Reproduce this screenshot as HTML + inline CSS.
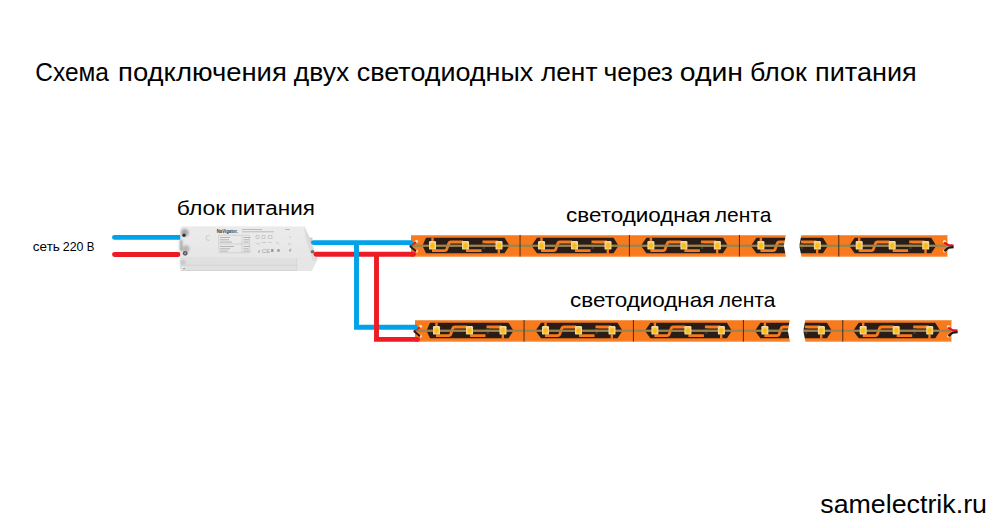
<!DOCTYPE html>
<html><head><meta charset="utf-8"><title>Схема подключения</title>
<style>html,body{margin:0;padding:0;background:#fff;width:999px;height:528px;overflow:hidden}svg{display:block}</style>
</head><body>
<svg width="999" height="528" viewBox="0 0 999 528">
<rect width="999" height="528" fill="#fff"/>
<defs><radialGradient id="ledg" cx="0.5" cy="0.55" r="0.6"><stop offset="0" stop-color="#ffb400"/><stop offset="0.45" stop-color="#fcc02a"/><stop offset="0.75" stop-color="#f4d690"/><stop offset="1" stop-color="#eadcb8"/></radialGradient></defs>
<g font-family="Liberation Sans, sans-serif" fill="#000">
<text x="35.25" y="81.3" font-size="25.5" textLength="73.72" lengthAdjust="spacingAndGlyphs">Схема</text>
<text x="118.06" y="81.3" font-size="25.5" textLength="168.76" lengthAdjust="spacingAndGlyphs">подключения</text>
<text x="293.79" y="81.3" font-size="25.5" textLength="55.48" lengthAdjust="spacingAndGlyphs">двух</text>
<text x="356.84" y="81.3" font-size="25.5" textLength="176.42" lengthAdjust="spacingAndGlyphs">светодиодных</text>
<text x="540.90" y="81.3" font-size="25.5" textLength="56.54" lengthAdjust="spacingAndGlyphs">лент</text>
<text x="603.44" y="81.3" font-size="25.5" textLength="69.56" lengthAdjust="spacingAndGlyphs">через</text>
<text x="679.78" y="81.3" font-size="25.5" textLength="63.26" lengthAdjust="spacingAndGlyphs">один</text>
<text x="749.92" y="81.3" font-size="25.5" textLength="56.94" lengthAdjust="spacingAndGlyphs">блок</text>
<text x="815.09" y="81.3" font-size="25.5" textLength="101.67" lengthAdjust="spacingAndGlyphs">питания</text>
<text x="176.86" y="215.3" font-size="20.5" textLength="48.52" lengthAdjust="spacingAndGlyphs">блок</text>
<text x="230.67" y="215.3" font-size="20.5" textLength="84.25" lengthAdjust="spacingAndGlyphs">питания</text>
<text x="32.84" y="250.6" font-size="12.0" textLength="27.04" lengthAdjust="spacingAndGlyphs">сеть</text>
<text x="62.78" y="250.6" font-size="12.0" textLength="20.76" lengthAdjust="spacingAndGlyphs">220</text>
<text x="86.85" y="250.6" font-size="12.0" textLength="7.63" lengthAdjust="spacingAndGlyphs">В</text>
<text x="566.04" y="221.7" font-size="21.0" textLength="144.37" lengthAdjust="spacingAndGlyphs">светодиодная</text>
<text x="714.80" y="221.7" font-size="21.0" textLength="56.59" lengthAdjust="spacingAndGlyphs">лента</text>
<text x="570.04" y="306.7" font-size="21.0" textLength="144.37" lengthAdjust="spacingAndGlyphs">светодиодная</text>
<text x="718.80" y="306.7" font-size="21.0" textLength="56.59" lengthAdjust="spacingAndGlyphs">лента</text>
<text x="820.26" y="512.7" font-size="25.5" textLength="166.72" lengthAdjust="spacingAndGlyphs">samelectrik.ru</text>
</g>
<line x1="114.5" y1="237.4" x2="179.5" y2="237.4" stroke="#00a2e8" stroke-width="4.9" stroke-linecap="round"/>
<line x1="114.5" y1="254.5" x2="178.2" y2="254.5" stroke="#ed1c24" stroke-width="4.9" stroke-linecap="round"/>
<defs><filter id="bl" x="-50%" y="-50%" width="200%" height="200%"><feGaussianBlur stdDeviation="1.2"/></filter><filter id="bl2" x="-50%" y="-50%" width="200%" height="200%"><feGaussianBlur stdDeviation="0.5"/></filter><linearGradient id="pg" x1="0" y1="0" x2="0" y2="1"><stop offset="0" stop-color="#ebebeb"/><stop offset="1" stop-color="#e5e5e5"/></linearGradient></defs>
<path fill="url(#pg)" d="M183 226.2 L305 226.4 L310 238 L317.5 259 L311.5 271 L182 271 Q180 270.5 180.3 268 L180.3 229 Q180.5 226.3 183 226.2Z"/>
<path fill="#e0e0e0" d="M180.3 257 Q250 256.3 317.5 259 L311.5 271 L182 271 Q180 270.5 180.3 268Z"/>
<rect x="181" y="264.6" width="132" height="1.2" fill="#d6d6d6" filter="url(#bl2)"/>
<rect x="181" y="270" width="131" height="1" fill="#d4d4d4"/>
<rect x="296.5" y="258" width="0.8" height="13" fill="#d2d2d2"/>
<path fill="#e6e6e6" d="M297.3 258.3 L317.5 259 L311.5 271 L297.3 271Z"/>
<path fill="#dcdcdc" d="M304 227 L310 238 L317.5 259 L313 261 L306 240 Z" filter="url(#bl2)"/>
<rect x="309.5" y="237.5" width="3" height="6" fill="#cfcfcf" filter="url(#bl2)"/>
<circle cx="312.5" cy="251.8" r="1.8" fill="#707070" filter="url(#bl2)"/>
<g filter="url(#bl)">
<circle cx="184.8" cy="232.8" r="3.8" fill="#a6a6a6"/>
<circle cx="186" cy="248.8" r="3.6" fill="#b8b8b8"/>
<rect x="179.8" y="240" width="2.4" height="11" fill="#a0a0a0"/>
<circle cx="183" cy="262.5" r="2.8" fill="#c8c8c8"/>
</g>
<circle cx="184" cy="235.3" r="1.7" fill="#333" filter="url(#bl2)"/>
<circle cx="185.2" cy="253.3" r="2.4" fill="#5a5a5a" filter="url(#bl2)"/>
<circle cx="185.2" cy="253.3" r="1.1" fill="#9a9a9a"/>
<circle cx="183.5" cy="267.5" r="1" fill="#fafafa"/>
<circle cx="184" cy="268.5" r="0.7" fill="#777"/>
<text x="216.8" y="232.6" font-family="Liberation Sans" font-weight="bold" font-size="6.2" fill="#3a3a3a" textLength="21" lengthAdjust="spacingAndGlyphs">NaVigator.</text>
<g fill="#bababa" filter="url(#bl2)">
<rect x="242" y="229" width="20" height="1"/><rect x="242" y="231.3" width="32" height="1"/>
<rect x="285" y="229" width="5" height="1"/>
</g>
<g fill="none" stroke="#bcbcbc" stroke-width="0.7" filter="url(#bl2)">
<path stroke="#c8c8c8" d="M218.5 235.2H249 L250 252.8 H219Z M219 244H250.5 M242 235.5V253"/>
<path d="M210 236.2 A2.4 2.4 0 1 0 210 239.8"/>
</g>
<g fill="#b4b4b4" filter="url(#bl2)">
<rect x="220" y="237.0" width="10" height="1"/><rect x="243.5" y="237.0" width="7" height="1"/>
<rect x="220" y="239.3" width="9" height="1"/><rect x="243.5" y="239.3" width="6" height="1"/>
<rect x="220" y="241.6" width="12" height="1"/><rect x="243.5" y="241.6" width="5" height="1"/>
<rect x="220" y="246.0" width="14" height="1"/><rect x="243.5" y="246.0" width="6" height="1"/>
<rect x="220" y="248.3" width="10" height="1"/><rect x="243.5" y="248.3" width="5" height="1"/>
<rect x="220" y="250.6" width="8" height="1"/><rect x="243.5" y="250.6" width="6" height="1"/>
</g>
<g fill="none" stroke="#bcbcbc" stroke-width="0.7" filter="url(#bl2)">
<path d="M256 235.5h3v3h-3z M262 235.5h3v3h-3z M268.5 235.5h3.5v3h-3.5z M256 242.5l2 2l2-2 M262 242.5h4 M268.5 242.5h3 M276 242l3 2 M289 236l2 2 M288 244h3 M290 248l2 2"/>
</g>
<g fill="#9c9c9c" filter="url(#bl2)">
<text x="258" y="252.5" font-family="Liberation Sans" font-size="4.5" textLength="12" lengthAdjust="spacingAndGlyphs">ϵ CE</text>
<rect x="271" y="249" width="2.5" height="3"/><circle cx="278.5" cy="250.5" r="1.4"/><circle cx="290" cy="250.5" r="1"/>
</g>
<rect x="411.0" y="235.0" width="536.4" height="21.5" fill="#f87a1c"/>
<rect x="411.0" y="235.0" width="536.4" height="1" fill="#f79a55"/>
<rect x="411.0" y="255.8" width="536.4" height="1" fill="#f7a060"/>
<defs><clipPath id="cl235"><rect x="411.0" y="235.0" width="376.0" height="21.5"/></clipPath><clipPath id="cr235"><rect x="799.0" y="235.0" width="39.7" height="21.5"/></clipPath></defs>
<g clip-path="url(#cl235)">
<polygon fill="#2a1c16" points="422.5,245.7 426.0,237.8 504.5,237.8 509.5,245.7 504.5,253.3 426.0,253.3"/>
<path fill="none" stroke="#f87a1c" stroke-width="2.8" d="M432.0 250.6 H444.5 Q446.5 250.6 447.0 248.5 L448.5 244.3 Q449.0 242.0 451.0 242.0 H463.0"/>
<path fill="none" stroke="#f87a1c" stroke-width="2.8" d="M466.0 250.6 H481.5 M482.5 242.0 H498.0"/>
<rect x="482.5" y="243.0" width="2.5" height="6" fill="#3c3a38"/>
<rect x="431.3" y="237.6" width="2.4" height="4" fill="#f87a1c"/>
<rect x="497.6" y="249.4" width="2.4" height="4.2" fill="#f87a1c"/>
<polygon fill="#2a1c16" points="531.5,245.7 537.0,237.8 613.5,237.8 618.5,245.7 613.5,253.3 537.0,253.3"/>
<path fill="none" stroke="#f87a1c" stroke-width="2.8" d="M541.0 250.6 H553.5 Q555.5 250.6 556.0 248.5 L557.5 244.3 Q558.0 242.0 560.0 242.0 H572.0"/>
<path fill="none" stroke="#f87a1c" stroke-width="2.8" d="M575.0 250.6 H590.5 M591.5 242.0 H607.0"/>
<rect x="591.5" y="243.0" width="2.5" height="6" fill="#3c3a38"/>
<rect x="540.3" y="237.6" width="2.4" height="4" fill="#f87a1c"/>
<rect x="606.6" y="249.4" width="2.4" height="4.2" fill="#f87a1c"/>
<polygon fill="#2a1c16" points="640.9,245.7 646.4,237.8 722.9,237.8 727.9,245.7 722.9,253.3 646.4,253.3"/>
<path fill="none" stroke="#f87a1c" stroke-width="2.8" d="M650.4 250.6 H662.9 Q664.9 250.6 665.4 248.5 L666.9 244.3 Q667.4 242.0 669.4 242.0 H681.4"/>
<path fill="none" stroke="#f87a1c" stroke-width="2.8" d="M684.4 250.6 H699.9 M700.9 242.0 H716.4"/>
<rect x="700.9" y="243.0" width="2.5" height="6" fill="#3c3a38"/>
<rect x="649.7" y="237.6" width="2.4" height="4" fill="#f87a1c"/>
<rect x="716.0" y="249.4" width="2.4" height="4.2" fill="#f87a1c"/>
<polygon fill="#2a1c16" points="750.9,245.7 756.4,237.8 832.9,237.8 837.9,245.7 832.9,253.3 756.4,253.3"/>
<path fill="none" stroke="#f87a1c" stroke-width="2.8" d="M760.4 250.6 H772.9 Q774.9 250.6 775.4 248.5 L776.9 244.3 Q777.4 242.0 779.4 242.0 H791.4"/>
<path fill="none" stroke="#f87a1c" stroke-width="2.8" d="M794.4 250.6 H809.9 M810.9 242.0 H826.4"/>
<rect x="810.9" y="243.0" width="2.5" height="6" fill="#3c3a38"/>
<rect x="759.7" y="237.6" width="2.4" height="4" fill="#f87a1c"/>
<rect x="826.0" y="249.4" width="2.4" height="4.2" fill="#f87a1c"/>
</g>
<g clip-path="url(#cr235)">
<polygon fill="#2a1c16" points="740.9,245.7 746.4,237.8 822.9,237.8 827.9,245.7 822.9,253.3 746.4,253.3"/>
<path fill="none" stroke="#f87a1c" stroke-width="2.8" d="M750.4 250.6 H762.9 Q764.9 250.6 765.4 248.5 L766.9 244.3 Q767.4 242.0 769.4 242.0 H781.4"/>
<path fill="none" stroke="#f87a1c" stroke-width="2.8" d="M784.4 250.6 H799.9 M800.9 242.0 H816.4"/>
<rect x="800.9" y="243.0" width="2.5" height="6" fill="#3c3a38"/>
<rect x="749.7" y="237.6" width="2.4" height="4" fill="#f87a1c"/>
<rect x="816.0" y="249.4" width="2.4" height="4.2" fill="#f87a1c"/>
</g>
<polygon fill="#2a1c16" points="849.2,245.7 854.7,237.8 931.2,237.8 936.2,245.7 931.2,253.3 854.7,253.3"/>
<path fill="none" stroke="#f87a1c" stroke-width="2.8" d="M858.7 250.6 H871.2 Q873.2 250.6 873.7 248.5 L875.2 244.3 Q875.7 242.0 877.7 242.0 H889.7"/>
<path fill="none" stroke="#f87a1c" stroke-width="2.8" d="M892.7 250.6 H908.2 M909.2 242.0 H924.7"/>
<rect x="909.2" y="243.0" width="2.5" height="6" fill="#3c3a38"/>
<rect x="858.0" y="237.6" width="2.4" height="4" fill="#f87a1c"/>
<rect x="924.3" y="249.4" width="2.4" height="4.2" fill="#f87a1c"/>
<rect x="411.0" y="244.6" width="536.4" height="2.3" fill="#9a8552"/>
<g clip-path="url(#cl235)">
<rect x="429.0" y="241.0" width="7" height="8.6" rx="1.2" fill="url(#ledg)"/>
<rect x="462.0" y="241.0" width="7" height="8.6" rx="1.2" fill="url(#ledg)"/>
<rect x="495.5" y="241.0" width="7" height="8.6" rx="1.2" fill="url(#ledg)"/>
<rect x="538.0" y="241.0" width="7" height="8.6" rx="1.2" fill="url(#ledg)"/>
<rect x="571.0" y="241.0" width="7" height="8.6" rx="1.2" fill="url(#ledg)"/>
<rect x="604.5" y="241.0" width="7" height="8.6" rx="1.2" fill="url(#ledg)"/>
<rect x="647.4" y="241.0" width="7" height="8.6" rx="1.2" fill="url(#ledg)"/>
<rect x="680.4" y="241.0" width="7" height="8.6" rx="1.2" fill="url(#ledg)"/>
<rect x="713.9" y="241.0" width="7" height="8.6" rx="1.2" fill="url(#ledg)"/>
<rect x="757.4" y="241.0" width="7" height="8.6" rx="1.2" fill="url(#ledg)"/>
<rect x="790.4" y="241.0" width="7" height="8.6" rx="1.2" fill="url(#ledg)"/>
<rect x="823.9" y="241.0" width="7" height="8.6" rx="1.2" fill="url(#ledg)"/>
</g><g clip-path="url(#cr235)">
<rect x="747.4" y="241.0" width="7" height="8.6" rx="1.2" fill="url(#ledg)"/>
<rect x="780.4" y="241.0" width="7" height="8.6" rx="1.2" fill="url(#ledg)"/>
<rect x="813.9" y="241.0" width="7" height="8.6" rx="1.2" fill="url(#ledg)"/>
</g>
<rect x="855.7" y="241.0" width="7" height="8.6" rx="1.2" fill="url(#ledg)"/>
<rect x="888.7" y="241.0" width="7" height="8.6" rx="1.2" fill="url(#ledg)"/>
<rect x="922.2" y="241.0" width="7" height="8.6" rx="1.2" fill="url(#ledg)"/>
<circle cx="416.5" cy="241.3" r="1.6" fill="#f3dcc0"/><circle cx="416.5" cy="251.0" r="1.6" fill="#f3dcc0"/>
<circle cx="944.5" cy="241.5" r="1.6" fill="#f3dcc0"/><circle cx="944.5" cy="251.0" r="1.6" fill="#f3dcc0"/>
<rect x="519.5" y="235.0" width="1.1" height="21.5" fill="#4a2c18" opacity="0.9"/>
<rect x="628.9" y="235.0" width="1.1" height="21.5" fill="#4a2c18" opacity="0.9"/>
<rect x="738.9" y="235.0" width="1.1" height="21.5" fill="#4a2c18" opacity="0.9"/>
<rect x="838.2" y="235.0" width="1.1" height="21.5" fill="#4a2c18" opacity="0.9"/>
<polygon fill="#fff" points="786.0,234.0 801.5,234.0 799.3,245.7 801.5,257.0 786.0,257.0 783.8,245.7"/>
<polyline fill="none" stroke="#e3141c" stroke-width="1.8" points="416.0,242.4 409.8,246.0"/>
<polyline fill="none" stroke="#1a1a1a" stroke-width="1.8" points="409.8,246.0 416.0,251.2"/>
<polyline fill="none" stroke="#e3141c" stroke-width="2.2" points="944.1,242.6 948.6,245.2 953.6,245.6"/>
<polyline fill="none" stroke="#1a1a1a" stroke-width="2.2" points="944.4,251.1 948.6,247.6 953.6,247.2"/>
<rect x="415.0" y="320.0" width="536.4" height="21.5" fill="#f87a1c"/>
<rect x="415.0" y="320.0" width="536.4" height="1" fill="#f79a55"/>
<rect x="415.0" y="340.8" width="536.4" height="1" fill="#f7a060"/>
<defs><clipPath id="cl320"><rect x="415.0" y="320.0" width="376.0" height="21.5"/></clipPath><clipPath id="cr320"><rect x="803.0" y="320.0" width="39.7" height="21.5"/></clipPath></defs>
<g clip-path="url(#cl320)">
<polygon fill="#2a1c16" points="426.5,330.7 430.0,322.8 508.5,322.8 513.5,330.7 508.5,338.3 430.0,338.3"/>
<path fill="none" stroke="#f87a1c" stroke-width="2.8" d="M436.0 335.6 H448.5 Q450.5 335.6 451.0 333.5 L452.5 329.3 Q453.0 327.0 455.0 327.0 H467.0"/>
<path fill="none" stroke="#f87a1c" stroke-width="2.8" d="M470.0 335.6 H485.5 M486.5 327.0 H502.0"/>
<rect x="486.5" y="328.0" width="2.5" height="6" fill="#3c3a38"/>
<rect x="435.3" y="322.6" width="2.4" height="4" fill="#f87a1c"/>
<rect x="501.6" y="334.4" width="2.4" height="4.2" fill="#f87a1c"/>
<polygon fill="#2a1c16" points="535.5,330.7 541.0,322.8 617.5,322.8 622.5,330.7 617.5,338.3 541.0,338.3"/>
<path fill="none" stroke="#f87a1c" stroke-width="2.8" d="M545.0 335.6 H557.5 Q559.5 335.6 560.0 333.5 L561.5 329.3 Q562.0 327.0 564.0 327.0 H576.0"/>
<path fill="none" stroke="#f87a1c" stroke-width="2.8" d="M579.0 335.6 H594.5 M595.5 327.0 H611.0"/>
<rect x="595.5" y="328.0" width="2.5" height="6" fill="#3c3a38"/>
<rect x="544.3" y="322.6" width="2.4" height="4" fill="#f87a1c"/>
<rect x="610.6" y="334.4" width="2.4" height="4.2" fill="#f87a1c"/>
<polygon fill="#2a1c16" points="644.9,330.7 650.4,322.8 726.9,322.8 731.9,330.7 726.9,338.3 650.4,338.3"/>
<path fill="none" stroke="#f87a1c" stroke-width="2.8" d="M654.4 335.6 H666.9 Q668.9 335.6 669.4 333.5 L670.9 329.3 Q671.4 327.0 673.4 327.0 H685.4"/>
<path fill="none" stroke="#f87a1c" stroke-width="2.8" d="M688.4 335.6 H703.9 M704.9 327.0 H720.4"/>
<rect x="704.9" y="328.0" width="2.5" height="6" fill="#3c3a38"/>
<rect x="653.7" y="322.6" width="2.4" height="4" fill="#f87a1c"/>
<rect x="720.0" y="334.4" width="2.4" height="4.2" fill="#f87a1c"/>
<polygon fill="#2a1c16" points="754.9,330.7 760.4,322.8 836.9,322.8 841.9,330.7 836.9,338.3 760.4,338.3"/>
<path fill="none" stroke="#f87a1c" stroke-width="2.8" d="M764.4 335.6 H776.9 Q778.9 335.6 779.4 333.5 L780.9 329.3 Q781.4 327.0 783.4 327.0 H795.4"/>
<path fill="none" stroke="#f87a1c" stroke-width="2.8" d="M798.4 335.6 H813.9 M814.9 327.0 H830.4"/>
<rect x="814.9" y="328.0" width="2.5" height="6" fill="#3c3a38"/>
<rect x="763.7" y="322.6" width="2.4" height="4" fill="#f87a1c"/>
<rect x="830.0" y="334.4" width="2.4" height="4.2" fill="#f87a1c"/>
</g>
<g clip-path="url(#cr320)">
<polygon fill="#2a1c16" points="744.9,330.7 750.4,322.8 826.9,322.8 831.9,330.7 826.9,338.3 750.4,338.3"/>
<path fill="none" stroke="#f87a1c" stroke-width="2.8" d="M754.4 335.6 H766.9 Q768.9 335.6 769.4 333.5 L770.9 329.3 Q771.4 327.0 773.4 327.0 H785.4"/>
<path fill="none" stroke="#f87a1c" stroke-width="2.8" d="M788.4 335.6 H803.9 M804.9 327.0 H820.4"/>
<rect x="804.9" y="328.0" width="2.5" height="6" fill="#3c3a38"/>
<rect x="753.7" y="322.6" width="2.4" height="4" fill="#f87a1c"/>
<rect x="820.0" y="334.4" width="2.4" height="4.2" fill="#f87a1c"/>
</g>
<polygon fill="#2a1c16" points="853.2,330.7 858.7,322.8 935.2,322.8 940.2,330.7 935.2,338.3 858.7,338.3"/>
<path fill="none" stroke="#f87a1c" stroke-width="2.8" d="M862.7 335.6 H875.2 Q877.2 335.6 877.7 333.5 L879.2 329.3 Q879.7 327.0 881.7 327.0 H893.7"/>
<path fill="none" stroke="#f87a1c" stroke-width="2.8" d="M896.7 335.6 H912.2 M913.2 327.0 H928.7"/>
<rect x="913.2" y="328.0" width="2.5" height="6" fill="#3c3a38"/>
<rect x="862.0" y="322.6" width="2.4" height="4" fill="#f87a1c"/>
<rect x="928.3" y="334.4" width="2.4" height="4.2" fill="#f87a1c"/>
<rect x="415.0" y="329.6" width="536.4" height="2.3" fill="#9a8552"/>
<g clip-path="url(#cl320)">
<rect x="433.0" y="326.0" width="7" height="8.6" rx="1.2" fill="url(#ledg)"/>
<rect x="466.0" y="326.0" width="7" height="8.6" rx="1.2" fill="url(#ledg)"/>
<rect x="499.5" y="326.0" width="7" height="8.6" rx="1.2" fill="url(#ledg)"/>
<rect x="542.0" y="326.0" width="7" height="8.6" rx="1.2" fill="url(#ledg)"/>
<rect x="575.0" y="326.0" width="7" height="8.6" rx="1.2" fill="url(#ledg)"/>
<rect x="608.5" y="326.0" width="7" height="8.6" rx="1.2" fill="url(#ledg)"/>
<rect x="651.4" y="326.0" width="7" height="8.6" rx="1.2" fill="url(#ledg)"/>
<rect x="684.4" y="326.0" width="7" height="8.6" rx="1.2" fill="url(#ledg)"/>
<rect x="717.9" y="326.0" width="7" height="8.6" rx="1.2" fill="url(#ledg)"/>
<rect x="761.4" y="326.0" width="7" height="8.6" rx="1.2" fill="url(#ledg)"/>
<rect x="794.4" y="326.0" width="7" height="8.6" rx="1.2" fill="url(#ledg)"/>
<rect x="827.9" y="326.0" width="7" height="8.6" rx="1.2" fill="url(#ledg)"/>
</g><g clip-path="url(#cr320)">
<rect x="751.4" y="326.0" width="7" height="8.6" rx="1.2" fill="url(#ledg)"/>
<rect x="784.4" y="326.0" width="7" height="8.6" rx="1.2" fill="url(#ledg)"/>
<rect x="817.9" y="326.0" width="7" height="8.6" rx="1.2" fill="url(#ledg)"/>
</g>
<rect x="859.7" y="326.0" width="7" height="8.6" rx="1.2" fill="url(#ledg)"/>
<rect x="892.7" y="326.0" width="7" height="8.6" rx="1.2" fill="url(#ledg)"/>
<rect x="926.2" y="326.0" width="7" height="8.6" rx="1.2" fill="url(#ledg)"/>
<circle cx="420.5" cy="326.3" r="1.6" fill="#f3dcc0"/><circle cx="420.5" cy="336.0" r="1.6" fill="#f3dcc0"/>
<circle cx="948.5" cy="326.5" r="1.6" fill="#f3dcc0"/><circle cx="948.5" cy="336.0" r="1.6" fill="#f3dcc0"/>
<rect x="523.5" y="320.0" width="1.1" height="21.5" fill="#4a2c18" opacity="0.9"/>
<rect x="632.9" y="320.0" width="1.1" height="21.5" fill="#4a2c18" opacity="0.9"/>
<rect x="742.9" y="320.0" width="1.1" height="21.5" fill="#4a2c18" opacity="0.9"/>
<rect x="842.2" y="320.0" width="1.1" height="21.5" fill="#4a2c18" opacity="0.9"/>
<polygon fill="#fff" points="790.0,319.0 805.5,319.0 803.3,330.7 805.5,342.0 790.0,342.0 787.8,330.7"/>
<polyline fill="none" stroke="#e3141c" stroke-width="1.8" points="420.0,327.4 413.8,331.0"/>
<polyline fill="none" stroke="#1a1a1a" stroke-width="1.8" points="413.8,331.0 420.0,336.2"/>
<polyline fill="none" stroke="#e3141c" stroke-width="2.2" points="948.1,327.6 952.6,330.2 957.6,330.6"/>
<polyline fill="none" stroke="#1a1a1a" stroke-width="2.2" points="948.4,336.1 952.6,332.6 957.6,332.2"/>
<line x1="313.5" y1="242.6" x2="410.8" y2="242.6" stroke="#00a2e8" stroke-width="4.9" stroke-linecap="round"/>
<line x1="316.0" y1="254.3" x2="413.5" y2="254.3" stroke="#ed1c24" stroke-width="4.9" stroke-linecap="round"/>
<polyline fill="none" stroke="#00a2e8" stroke-width="4.9" stroke-linejoin="miter" points="356.5,242.6 356.5,327.3 415.5,327.3"/>
<circle cx="415.5" cy="327.3" r="2.45" fill="#00a2e8"/>
<polyline fill="none" stroke="#ed1c24" stroke-width="4.9" stroke-linejoin="miter" points="376.5,254.3 376.5,339.4 417.5,339.4"/>
<circle cx="417.5" cy="339.4" r="2.45" fill="#ed1c24"/>
</svg>
</body></html>
